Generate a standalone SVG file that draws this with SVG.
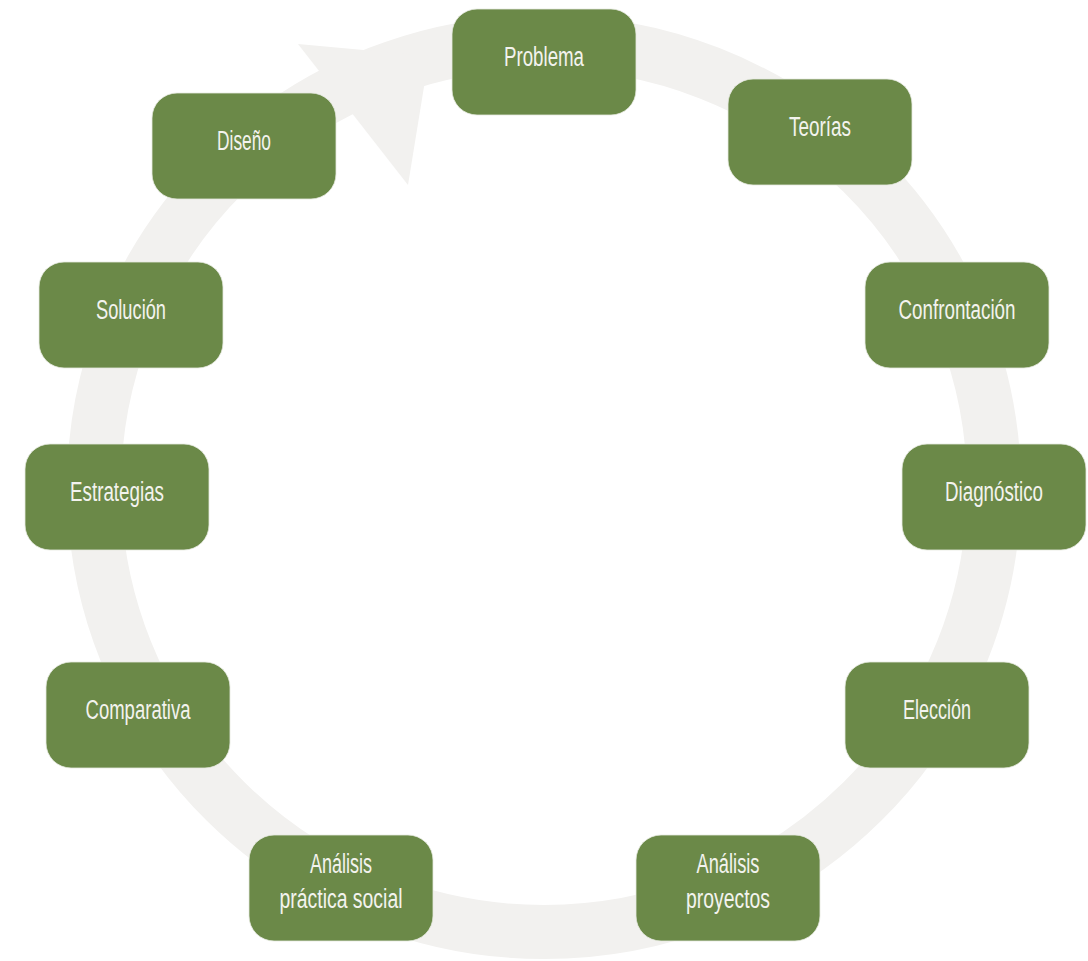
<svg xmlns="http://www.w3.org/2000/svg" width="1088" height="961" viewBox="0 0 1088 961">
<style>
.ring{fill:none;stroke:#f2f1ef;stroke-width:54}
.head{fill:#f2f1ef}
.box{fill:#6b8948;stroke:#e6eadf;stroke-width:0.8}
.lbl{font-family:"Liberation Sans Narrow","Liberation Sans",Arial,sans-serif;font-size:27px;fill:#f3f3ee;text-anchor:middle}
</style>
<rect width="1088" height="961" fill="#ffffff"/>
<g id="connectors">
<ellipse class="ring" cx="544" cy="487" rx="450" ry="445"/>
<polygon class="head" points="298,44 429,56 408,185"/>
</g>
<g id="node-problema"><rect class="box" x="452" y="9" width="184" height="106" rx="25"/><text class="lbl" x="544" y="66" textLength="80" lengthAdjust="spacingAndGlyphs">Problema</text></g>
<g id="node-teorias"><rect class="box" x="728" y="79" width="184" height="106" rx="25"/><text class="lbl" x="820" y="136" textLength="62" lengthAdjust="spacingAndGlyphs">Teorías</text></g>
<g id="node-confrontacion"><rect class="box" x="865" y="262" width="184" height="106" rx="25"/><text class="lbl" x="957" y="319" textLength="117" lengthAdjust="spacingAndGlyphs">Confrontación</text></g>
<g id="node-diagnostico"><rect class="box" x="902" y="444" width="184" height="106" rx="25"/><text class="lbl" x="994" y="501" textLength="98" lengthAdjust="spacingAndGlyphs">Diagnóstico</text></g>
<g id="node-eleccion"><rect class="box" x="845" y="662" width="184" height="106" rx="25"/><text class="lbl" x="937" y="719" textLength="68" lengthAdjust="spacingAndGlyphs">Elección</text></g>
<g id="node-analisis-proyectos"><rect class="box" x="636" y="835" width="184" height="106" rx="25"/><text class="lbl" x="728" y="873" textLength="63" lengthAdjust="spacingAndGlyphs">Análisis</text><text class="lbl" x="728" y="908" textLength="84" lengthAdjust="spacingAndGlyphs">proyectos</text></g>
<g id="node-analisis-practica"><rect class="box" x="249" y="835" width="184" height="106" rx="25"/><text class="lbl" x="341" y="873" textLength="62" lengthAdjust="spacingAndGlyphs">Análisis</text><text class="lbl" x="341" y="908" textLength="123" lengthAdjust="spacingAndGlyphs">práctica social</text></g>
<g id="node-comparativa"><rect class="box" x="46" y="662" width="184" height="106" rx="25"/><text class="lbl" x="138" y="719" textLength="105" lengthAdjust="spacingAndGlyphs">Comparativa</text></g>
<g id="node-estrategias"><rect class="box" x="25" y="444" width="184" height="106" rx="25"/><text class="lbl" x="117" y="501" textLength="94" lengthAdjust="spacingAndGlyphs">Estrategias</text></g>
<g id="node-solucion"><rect class="box" x="39" y="262" width="184" height="106" rx="25"/><text class="lbl" x="131" y="319" textLength="70" lengthAdjust="spacingAndGlyphs">Solución</text></g>
<g id="node-diseno"><rect class="box" x="152" y="93" width="184" height="106" rx="25"/><text class="lbl" x="244" y="150" textLength="54" lengthAdjust="spacingAndGlyphs">Diseño</text></g>
</svg>
